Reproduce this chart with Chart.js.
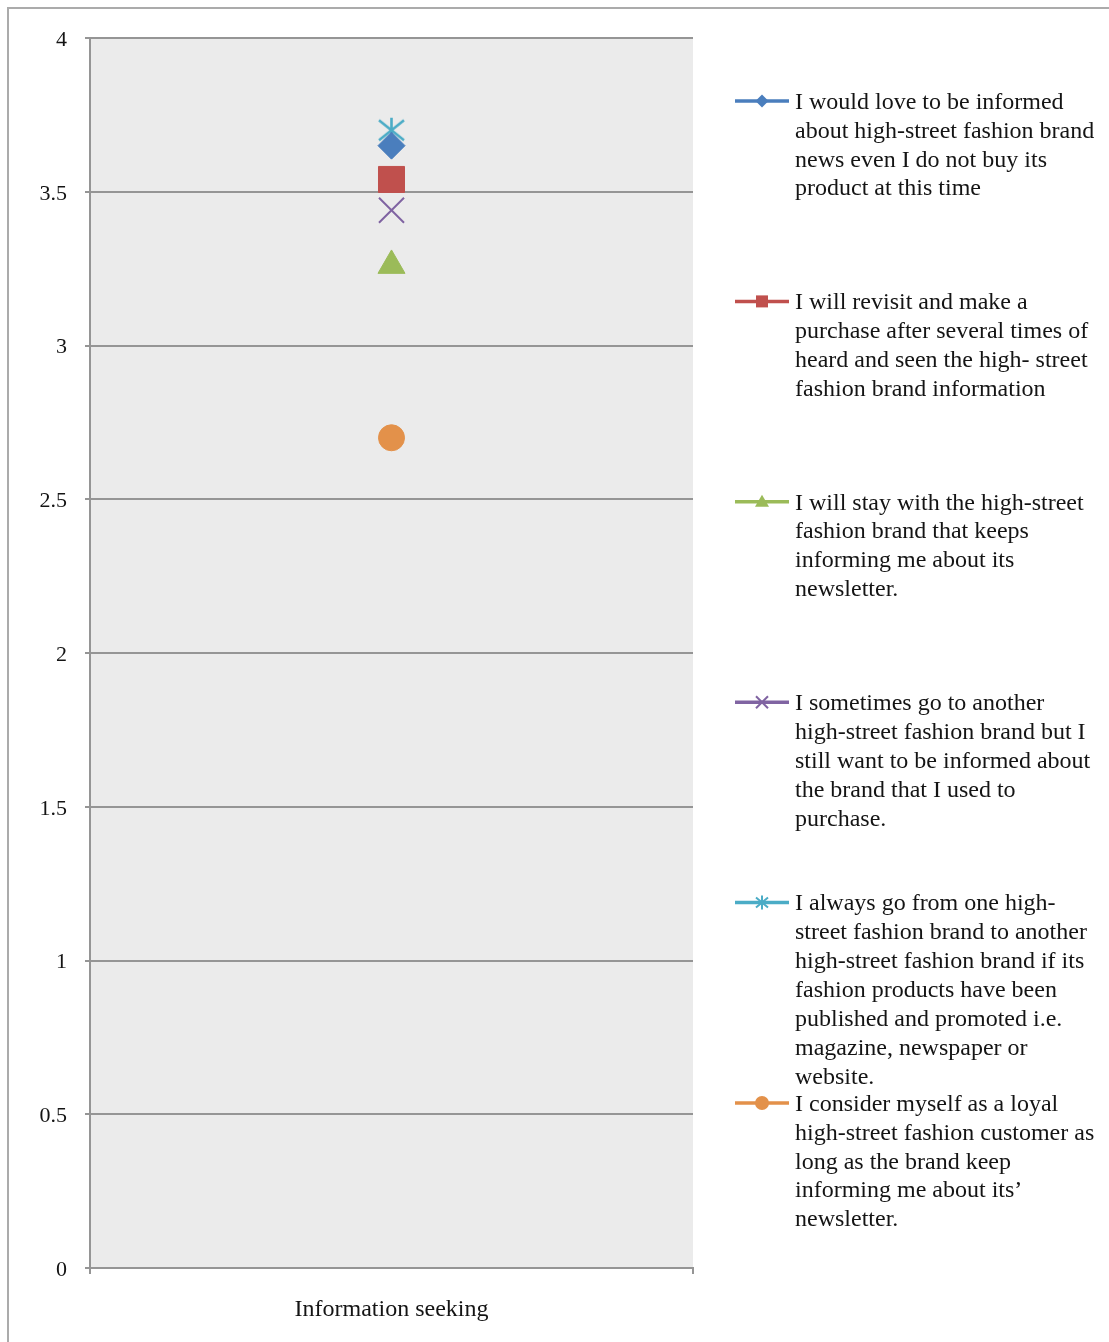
<!DOCTYPE html>
<html>
<head>
<meta charset="utf-8">
<script src="https://cdn.jsdelivr.net/npm/chart.js@4.4.1/dist/chart.umd.min.js"></script>
<style>
  html, body { margin: 0; padding: 0; background: #ffffff; }
  canvas { display: block; }
</style>
</head>
<body>
<canvas id="chart" width="1109" height="1342"></canvas>
<script>
// ---- data ----
const categories = ['Information seeking'];

const seriesNames = [
  ['I would love to be informed', 'about high-street fashion brand', 'news even I do not buy its', 'product at this time'],
  ['I will revisit and make a', 'purchase after several times of', 'heard and seen the high- street', 'fashion brand information'],
  ['I will stay with the high-street', 'fashion brand that keeps', 'informing me about its', 'newsletter.'],
  ['I sometimes go to another', 'high-street fashion brand but I', 'still want to be informed about', 'the brand that I used to', 'purchase.'],
  ['I always go from one high-', 'street fashion brand to another', 'high-street fashion brand if its', 'fashion products have been', 'published and promoted i.e.', 'magazine, newspaper or', 'website.'],
  ['I consider myself as a loyal', 'high-street fashion customer as', 'long as the brand keep', 'informing me about its\u2019', 'newsletter.']
];

const lovesNews      = [3.65];
const willRevisit    = [3.54];
const staysInformed  = [3.26];
const stillInformed  = [3.44];
const brandSwitching = [3.70];
const loyalCustomer  = [2.70];

const seriesValues = [lovesNews, willRevisit, staysInformed, stillInformed, brandSwitching, loyalCustomer];

const yMin = 0, yMax = 4, yStep = 0.5;

// ---- styles ----
const seriesColors = ['#4a7ebd', '#c0504d', '#9bbb59', '#8064a2', '#4bacc6', '#e3914a'];
const FONT = 'Liberation Serif, Times New Roman, serif';
const GRID = '#959595';
const TEXT = '#141414';

// Excel-style asterisk: vertical stroke plus an X
function asteriskCanvas(color, half, lw) {
  const s = Math.ceil(half * 2 + lw * 2);
  const c = document.createElement('canvas');
  c.width = s; c.height = s;
  const g = c.getContext('2d');
  const m = s / 2;
  g.strokeStyle = color; g.lineWidth = lw; g.lineCap = 'butt';
  g.beginPath();
  g.moveTo(m, m - half); g.lineTo(m, m + half);
  g.moveTo(m - half, m - half * 0.8); g.lineTo(m + half, m + half * 0.8);
  g.moveTo(m + half, m - half * 0.8); g.lineTo(m - half, m + half * 0.8);
  g.stroke();
  return c;
}

const markerStyles = [
  { pointStyle: 'rectRot', radius: 13.5, borderWidth: 1 },
  { pointStyle: 'rect', radius: 18.4, borderWidth: 1 },
  { pointStyle: 'triangle', radius: 15.6, borderWidth: 1 },
  { pointStyle: 'crossRot', radius: 17.7, borderWidth: 2 },
  { pointStyle: asteriskCanvas(seriesColors[4], 12.5, 2.6), radius: 13, borderWidth: 0 },
  { pointStyle: 'circle', radius: 13, borderWidth: 1 }
];

const datasets = seriesValues.map((vals, i) => ({
  label: seriesNames[i].join(' '),
  data: vals,
  showLine: false,
  borderColor: seriesColors[i],
  backgroundColor: seriesColors[i],
  pointStyle: markerStyles[i].pointStyle,
  pointRadius: markerStyles[i].radius,
  pointHoverRadius: markerStyles[i].radius,
  pointBorderWidth: markerStyles[i].borderWidth,
  pointBorderColor: seriesColors[i],
  pointBackgroundColor: seriesColors[i]
}));

// small legend marker drawn beside each legend line
function legendMarker(ctx, i, x, y) {
  const col = seriesColors[i];
  ctx.save();
  ctx.fillStyle = col; ctx.strokeStyle = col;
  ctx.beginPath();
  switch (i) {
    case 0: ctx.moveTo(x, y - 6.5); ctx.lineTo(x + 6.5, y); ctx.lineTo(x, y + 6.5); ctx.lineTo(x - 6.5, y); ctx.closePath(); ctx.fill(); break;
    case 1: ctx.fillRect(x - 6, y - 6, 12, 12); break;
    case 2: ctx.moveTo(x, y - 7); ctx.lineTo(x + 7, y + 5); ctx.lineTo(x - 7, y + 5); ctx.closePath(); ctx.fill(); break;
    case 3: ctx.lineWidth = 2; ctx.moveTo(x - 6, y - 6); ctx.lineTo(x + 6, y + 6); ctx.moveTo(x + 6, y - 6); ctx.lineTo(x - 6, y + 6); ctx.stroke(); break;
    case 4: ctx.lineWidth = 2; ctx.moveTo(x, y - 7); ctx.lineTo(x, y + 7); ctx.moveTo(x - 6, y - 5); ctx.lineTo(x + 6, y + 5); ctx.moveTo(x + 6, y - 5); ctx.lineTo(x - 6, y + 5); ctx.stroke(); break;
    case 5: ctx.arc(x, y, 7, 0, Math.PI * 2); ctx.fill(); break;
  }
  ctx.restore();
}

const decorPlugin = {
  id: 'decor',
  beforeDraw(chart) {
    const { ctx, chartArea: a } = chart;
    ctx.save();
    ctx.fillStyle = '#ebebeb';
    ctx.fillRect(a.left, a.top, a.right - a.left, a.bottom - a.top);
    ctx.restore();
  },
  afterDraw(chart) {
    const ctx = chart.ctx;
    ctx.save();
    // outer frame (left and top edges)
    ctx.strokeStyle = '#ababab';
    ctx.lineWidth = 2;
    ctx.beginPath();
    ctx.moveTo(8, chart.height);
    ctx.lineTo(8, 8);
    ctx.lineTo(chart.width, 8);
    ctx.stroke();

    // legend
    const x0 = 735, x1 = 789, tx = 795;
    const firstY = 101, entryStep = 200.4, lineH = 28.9;
    ctx.font = '24px ' + FONT;
    ctx.textBaseline = 'middle';
    ctx.textAlign = 'left';
    seriesNames.forEach((lines, i) => {
      const y = firstY + i * entryStep;
      ctx.strokeStyle = seriesColors[i];
      ctx.lineWidth = 3.5;
      ctx.beginPath();
      ctx.moveTo(x0, y); ctx.lineTo(x1, y);
      ctx.stroke();
      legendMarker(ctx, i, (x0 + x1) / 2, y);
      ctx.fillStyle = TEXT;
      lines.forEach((t, k) => ctx.fillText(t, tx, y + 1.5 + k * lineH));
    });
    ctx.restore();
  }
};

new Chart(document.getElementById('chart'), {
  type: 'line',
  data: { labels: categories, datasets },
  plugins: [decorPlugin],
  options: {
    responsive: false,
    animation: false,
    events: [],
    layout: { padding: { top: 38, right: 416, bottom: 0, left: 0 } },
    plugins: { legend: { display: false }, tooltip: { enabled: false } },
    scales: {
      x: {
        type: 'category',
        offset: true,
        grid: { offset: true, drawOnChartArea: false, drawTicks: true, tickLength: 6, tickColor: GRID, lineWidth: 2 },
        border: { display: true, color: GRID, width: 2 },
        ticks: { font: { family: FONT, size: 24 }, color: TEXT, padding: 21 },
        afterFit(scale) { scale.height = 74; }
      },
      y: {
        min: yMin, max: yMax,
        ticks: {
          stepSize: yStep,
          font: { family: FONT, size: 22 },
          color: TEXT,
          padding: 18,
          labelOffset: 2,
          callback: (v) => String(v)
        },
        grid: { color: GRID, lineWidth: 2, tickLength: 5, tickColor: GRID },
        border: { display: true, color: GRID, width: 2 },
        afterFit(scale) { scale.width = 90; }
      }
    }
  }
});
</script>
</body>
</html>
